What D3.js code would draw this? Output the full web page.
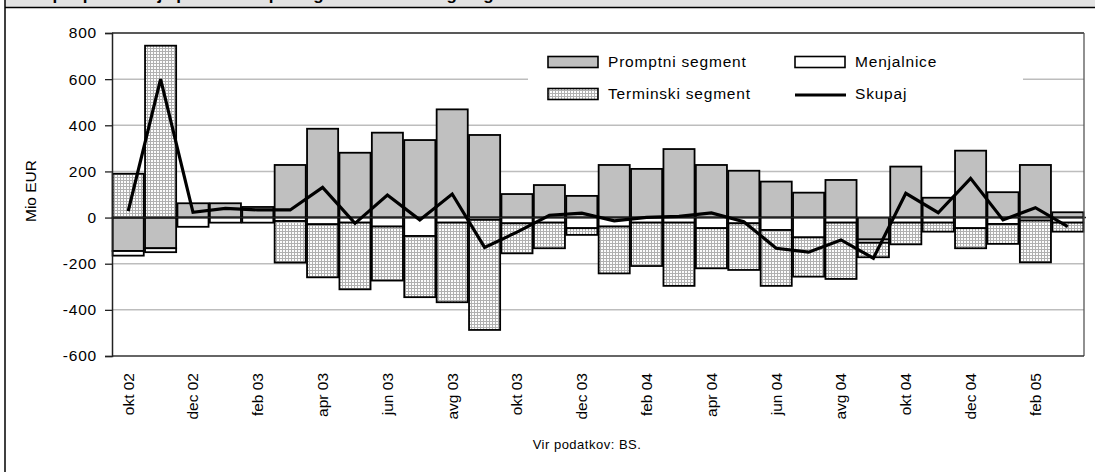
<!DOCTYPE html>
<html>
<head>
<meta charset="utf-8">
<script src="https://cdn.jsdelivr.net/npm/d3@7"></script>
<style>
  html, body { margin: 0; padding: 0; background: #fff; }
  svg { display: block; font-family: "Liberation Sans", Arial, sans-serif; }
</style>
</head>
<body>
<svg id="chart" width="1095" height="473"></svg>
<script>
// ---- data (Mio EUR) ----
const months = ["okt 02","nov 02","dec 02","jan 03","feb 03","mar 03","apr 03","maj 03","jun 03","jul 03","avg 03","sep 03",
                "okt 03","nov 03","dec 03","jan 04","feb 04","mar 04","apr 04","maj 04","jun 04","jul 04","avg 04","sep 04",
                "okt 04","nov 04","dec 04","jan 05","feb 05","mar 05"];
const tickLabels = ["okt 02","dec 02","feb 03","apr 03","jun 03","avg 03","okt 03","dec 03","feb 04","apr 04","jun 04","avg 04","okt 04","dec 04","feb 05"];
const promptni   = [-145,-133,62,62,46,228,385,281,368,336,469,358,102,141,94,228,211,297,228,203,156,108,163,-95,221,86,290,110,228,23];
const menjalnice = [-20,-17,-40,-22,-22,-15,-29,-22,-39,-80,-22,-10,-25,-22,-46,-39,-22,-22,-46,-25,-54,-86,-22,-14,-22,-22,-46,-28,-13,-22];
const terminski  = [190,745,0,0,0,-180,-230,-289,-234,-265,-345,-477,-130,-111,-29,-203,-188,-274,-174,-202,-242,-170,-244,-63,-94,-39,-87,-86,-181,-39];
const skupaj     = [28,600,23,40,33,33,131,-25,98,-10,102,-129,-63,10,19,-14,1,5,20,-18,-133,-150,-97,-176,105,21,170,-10,43,-39];
const yTicks = [-600,-400,-200,0,200,400,600,800];
const seriesNames = ["Promptni segment","Menjalnice","Terminski segment"];

const svg = d3.select("#chart");
const W = 1095, H = 473;
const plot = {left: 112, right: 1084, top: 33, bottom: 356};

// frame + title band (title is cut off at the top edge, as in the reference)
svg.append("rect").attr("x",5).attr("y",0).attr("width",W-5).attr("height",7.5).attr("fill","#e3e3e3");
svg.append("text").attr("x",10).attr("y",0.3).attr("font-weight","bold").attr("font-size",17)
   .text("Neto povpraševanje po devizah po segmentih deviznega trga");
svg.append("line").attr("x1",5).attr("x2",W).attr("y1",7.5).attr("y2",7.5).attr("stroke","#000").attr("stroke-width",1.5);
svg.append("line").attr("x1",5).attr("x2",5).attr("y1",0).attr("y2",472).attr("stroke","#000").attr("stroke-width",1.5);

// hatch pattern
const defs = svg.append("defs");
const pat = defs.append("pattern").attr("id","hatch").attr("patternUnits","userSpaceOnUse")
  .attr("width",3).attr("height",3);
pat.append("rect").attr("width",3).attr("height",3).attr("fill","#fcfcfc");
pat.append("path").attr("d","M0,0.5H3M0.5,0V3").attr("stroke","#b0b0b0").attr("stroke-width",1);

const x = d3.scaleBand().domain(months).range([plot.left, plot.right]).paddingInner(0.04).paddingOuter(0.02);
const y = d3.scaleLinear().domain([-600, 800]).range([plot.bottom, plot.top]);

// gridlines
svg.append("g").selectAll("line").data(yTicks.filter(v => v !== 0 && v !== 800 && v !== -600)).join("line")
  .attr("x1", plot.left).attr("x2", plot.right)
  .attr("y1", d => y(d)).attr("y2", d => y(d))
  .attr("stroke", "#bdbdbd").attr("stroke-width", 1.5);

// legend background (white box hides gridlines)
svg.append("rect").attr("x",528).attr("y",42).attr("width",495).attr("height",72).attr("fill","#fff");

// stacked data
const table = months.map((m,i) => ({month: m, "Promptni segment": promptni[i], "Menjalnice": menjalnice[i], "Terminski segment": terminski[i]}));
const stack = d3.stack().keys(seriesNames).offset(d3.stackOffsetDiverging);
const stacked = stack(table);
const fills = {"Promptni segment": "#c0c0c0", "Menjalnice": "#ffffff", "Terminski segment": "url(#hatch)"};

svg.append("g").selectAll("g").data(stacked).join("g")
  .attr("fill", d => fills[d.key])
  .selectAll("rect").data(d => d.filter(s => s[1] - s[0] !== 0)).join("rect")
  .attr("x", d => x(d.data.month))
  .attr("width", x.bandwidth())
  .attr("y", d => y(d[1]))
  .attr("height", d => y(d[0]) - y(d[1]))
  .attr("stroke", "#000").attr("stroke-width", 1.8);

// zero line
svg.append("line").attr("x1", plot.left).attr("x2", plot.right + 2).attr("y1", y(0)).attr("y2", y(0))
  .attr("stroke", "#222").attr("stroke-width", 1.5);

// plot border
svg.append("line").attr("x1",plot.left).attr("x2",plot.right).attr("y1",plot.top).attr("y2",plot.top).attr("stroke","#222").attr("stroke-width",1.3);
svg.append("line").attr("x1",plot.right).attr("x2",plot.right).attr("y1",plot.top).attr("y2",plot.bottom).attr("stroke","#555").attr("stroke-width",1.3);
svg.append("line").attr("x1",plot.left).attr("x2",plot.right).attr("y1",plot.bottom).attr("y2",plot.bottom).attr("stroke","#333").attr("stroke-width",1.5);

// total line
const line = d3.line().x((d,i) => x(months[i]) + x.bandwidth()/2).y(d => y(d));
svg.append("path").datum(skupaj).attr("d", line).attr("fill","none").attr("stroke","#000").attr("stroke-width",3.2);

// y axis
const yAxis = d3.axisLeft(y).tickValues(yTicks).tickSize(7).tickPadding(8).tickFormat(d => String(d));
const gy = svg.append("g").attr("transform", `translate(${plot.left},0)`).call(yAxis);
gy.select(".domain").attr("stroke","#222").attr("stroke-width",1.5);
gy.selectAll(".tick line").attr("stroke","#222").attr("stroke-width",1.3);
gy.selectAll(".tick text").attr("font-size",15.5).attr("fill","#000").attr("font-family","Liberation Sans, Arial, sans-serif").style("letter-spacing","0.8px");

// x labels (every other month)
svg.append("g").selectAll("text").data(tickLabels).join("text")
  .attr("transform", d => `translate(${x(d) + x.bandwidth()/2},373) rotate(-90)`)
  .attr("text-anchor","end").attr("dy","0.35em").attr("font-size",15.5).text(d => d);

// y axis title
svg.append("text").attr("transform","translate(31,191) rotate(-90)").attr("text-anchor","middle")
  .attr("dy","0.35em").attr("font-size",15.5).text("Mio EUR");

// legend
const lg = svg.append("g").attr("font-size",15.5).style("letter-spacing","0.8px");
const legendItems = [
  {name:"Promptni segment", type:"rect", fill: fills["Promptni segment"], x:548, y:62},
  {name:"Terminski segment", type:"rect", fill: fills["Terminski segment"], x:548, y:94},
  {name:"Menjalnice", type:"rect", fill: fills["Menjalnice"], x:795, y:62},
  {name:"Skupaj", type:"line", x:795, y:94}
];
legendItems.forEach(it => {
  if (it.type === "rect") {
    lg.append("rect").attr("x", it.x).attr("y", it.y - 5.5).attr("width", 50).attr("height", 11)
      .attr("fill", it.fill).attr("stroke","#000").attr("stroke-width",1.6);
  } else {
    lg.append("line").attr("x1", it.x).attr("x2", it.x + 51).attr("y1", it.y + 1).attr("y2", it.y + 1)
      .attr("stroke","#000").attr("stroke-width",3.2);
  }
  lg.append("text").attr("x", it.x + 60).attr("y", it.y).attr("dy","0.35em").text(it.name);
});

// source
svg.append("text").attr("x",587).attr("y",449).attr("text-anchor","middle").attr("font-size",13)
  .style("letter-spacing","0.5px").text("Vir podatkov: BS.");
</script>
</body>
</html>
